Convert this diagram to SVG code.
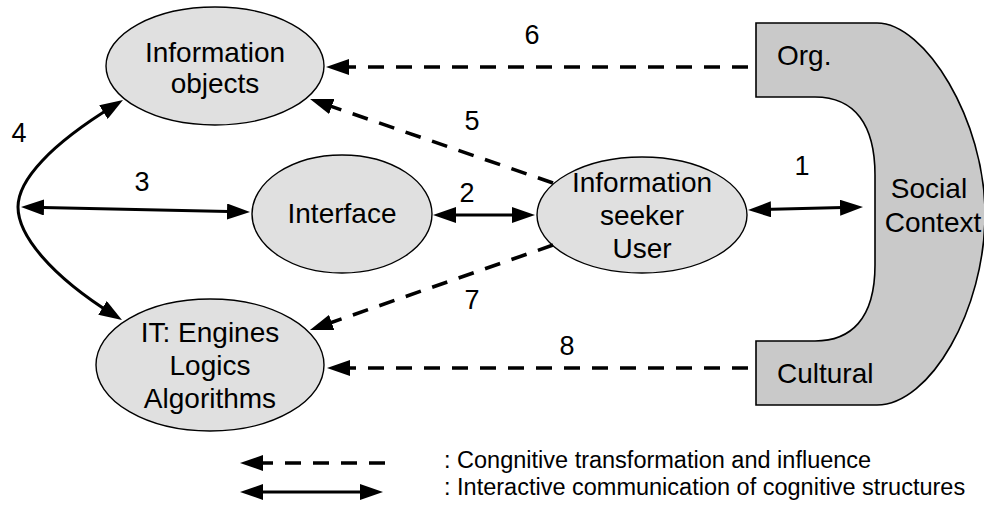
<svg xmlns="http://www.w3.org/2000/svg" width="984" height="506" viewBox="0 0 984 506">
<defs>
<style>
.node{fill:#e0e0e0;stroke:#000;stroke-width:1.4}
.lbl{font-family:"Liberation Sans",Arial,Helvetica,sans-serif;font-size:28px;fill:#000}
.num{font-family:"Liberation Sans",Arial,Helvetica,sans-serif;font-size:27px;fill:#000;text-anchor:middle}
.leg{font-family:"Liberation Sans",Arial,Helvetica,sans-serif;font-size:23.5px;fill:#000}
.mid{text-anchor:middle}
.dash{fill:none;stroke:#000;stroke-width:3.5;stroke-dasharray:16 12;marker-end:url(#arr)}
.solid{fill:none;stroke:#000;stroke-width:3;marker-start:url(#arr);marker-end:url(#arr)}
</style>
<marker id="arr" viewBox="0 0 23 16" refX="13" refY="8" markerWidth="23" markerHeight="16" markerUnits="userSpaceOnUse" orient="auto-start-reverse">
<path d="M0,0 L23,8 L0,16 Z" fill="#000"/>
</marker>
</defs>
<rect width="984" height="506" fill="#fff"/>

<g id="social-context">
<path d="M756,23 L877,23 C925,23 985,120 985,214 C985,310 930,405 877,405 L756,405 L756,341 L815,341 C850,341 875,320 875,265 L875,175 C875,125 855,97 815,97 L756,97 Z" fill="#c9c9c9" stroke="#000" stroke-width="1.6"/>
<text class="lbl" x="777" y="65">Org.</text>
<text class="lbl" x="777" y="383">Cultural</text>
<text class="lbl mid" x="929" y="198">Social</text>
<text class="lbl mid" x="933" y="232">Context</text>
</g>

<g id="information-objects">
<ellipse class="node" cx="215" cy="66" rx="109" ry="59"/>
<text class="lbl mid" x="215" y="62">Information</text>
<text class="lbl mid" x="215" y="93">objects</text>
</g>

<g id="interface">
<ellipse class="node" cx="342" cy="214" rx="90" ry="59"/>
<text class="lbl mid" x="342" y="223">Interface</text>
</g>

<g id="information-seeker">
<ellipse class="node" cx="642" cy="215" rx="105" ry="58"/>
<text class="lbl mid" x="642" y="192">Information</text>
<text class="lbl mid" x="642" y="225">seeker</text>
<text class="lbl mid" x="642" y="258">User</text>
</g>

<g id="it-engines">
<ellipse class="node" cx="210" cy="365" rx="114" ry="66"/>
<text class="lbl mid" x="210" y="342">IT: Engines</text>
<text class="lbl mid" x="210" y="375">Logics</text>
<text class="lbl mid" x="210" y="408">Algorithms</text>
</g>

<g id="connectors">
<path class="dash" d="M748,67 L336,67"/>
<path class="dash" d="M553,183 L319.5,102.3"/>
<path class="dash" d="M553,245 L319.4,326.7"/>
<path class="dash" d="M748,368 L337,368"/>
<path class="solid" d="M31,207.2 L240,211.8"/>
<path class="solid" d="M443,215 L525,215"/>
<path class="solid" d="M758,209.7 L853,207.3"/>
<path class="solid" d="M114.5,105.3 C50,145 18,180 18,207 C18,235 50,275 113.5,314.8"/>
<text class="num" x="532" y="44">6</text>
<text class="num" x="472" y="130">5</text>
<text class="num" x="467" y="202">2</text>
<text class="num" x="802" y="175">1</text>
<text class="num" x="142" y="191">3</text>
<text class="num" x="19" y="142">4</text>
<text class="num" x="472" y="309">7</text>
<text class="num" x="567" y="355">8</text>
</g>

<g id="legend">
<path class="dash" d="M385,463 L250,463"/>
<path class="solid" d="M250,492 L373,492"/>
<text class="leg" x="444" y="468">: Congnitive transformation and influence</text>
<text class="leg" x="444" y="495">: Interactive communication of cognitive structures</text>
</g>
</svg>
